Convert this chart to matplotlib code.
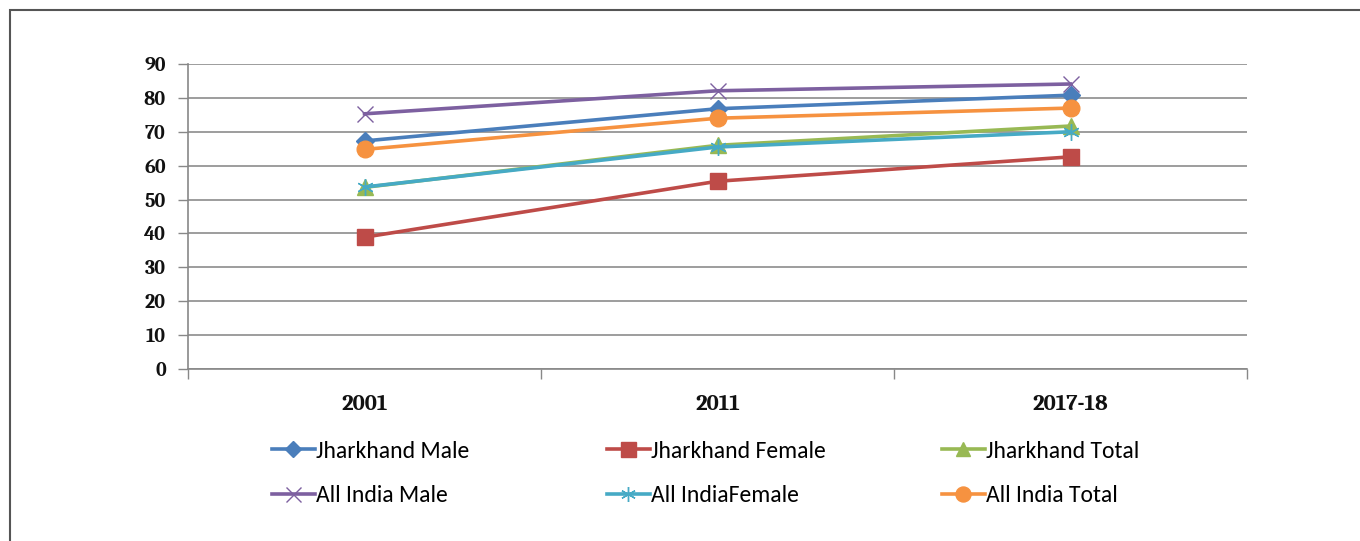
import matplotlib
matplotlib.use("Agg")
import matplotlib.pyplot as plt
from matplotlib.patches import Rectangle
from matplotlib.font_manager import FontProperties

years = ["2001", "2011", "2017-18"]
jharkhand_male = [67.3, 76.8, 80.8]
jharkhand_female = [38.9, 55.4, 62.6]
jharkhand_total = [53.6, 66.0, 71.7]
india_male = [75.3, 82.1, 84.1]
india_female = [53.7, 65.5, 70.0]
india_total = [64.8, 74.0, 77.0]
y_ticks = [0, 10, 20, 30, 40, 50, 60, 70, 80, 90]

series = [
    ("Jharkhand Male", jharkhand_male, "#4A7EBB", dict(marker="D", ms=9)),
    ("Jharkhand Female", jharkhand_female, "#BE4B48", dict(marker="s", ms=12)),
    ("Jharkhand Total", jharkhand_total, "#98B954", dict(marker="^", ms=11)),
    ("All India Male", india_male, "#7D60A0", dict(marker="x", ms=12, mew=1.0)),
    ("All India Female", india_female, "#46AAC5", dict(marker=(6, 2, 0), ms=12, mew=1.0)),
    ("All India Total", india_total, "#F69240", dict(marker="o", ms=12)),
]
legend_labels = ["Jharkhand Male", "Jharkhand Female", "Jharkhand Total",
                 "All India Male", "All IndiaFemale", "All India Total"]

fig = plt.figure(figsize=(13.6, 5.41), dpi=100)
fig.patch.set_facecolor("white")

# outer frame around the chart area
fig.patches.append(Rectangle((10 / 1360, -0.05), 1.2, (1 - 10 / 541) + 0.05,
                             transform=fig.transFigure, fill=False,
                             edgecolor="#555555", linewidth=1.5))

ax = fig.add_axes([188 / 1360, 1 - 369 / 541, (1247 - 188) / 1360, (369 - 64) / 541])
x = list(range(len(years)))

handles = []
for (name, vals, color, mk), lab in zip(series, legend_labels):
    h, = ax.plot(x, vals, color=color, lw=2.6, mec=color, mfc=color,
                 label=lab, zorder=3, **mk)
    handles.append(h)

ax.set_xlim(-0.5, len(years) - 0.5)
ax.set_ylim(0, 90)
ax.set_yticks(y_ticks)
ax.set_xticks([i - 0.5 for i in range(len(years) + 1)])
ax.set_xticklabels([])
ax.set_xticks(x, minor=True)
ax.set_xticklabels(years, minor=True)
ax.tick_params(axis="x", which="minor", length=0, pad=18)
ax.tick_params(axis="x", which="major", length=7, color="#888888", width=1)
ax.tick_params(axis="y", length=7, color="#888888", width=1, pad=9)

serif_bold = ["Caladea", "Liberation Serif", "DejaVu Serif"]
y_font = FontProperties(family=serif_bold, weight="bold", size=14.5)
x_font = FontProperties(family=serif_bold, weight="bold", size=16.5)
for lbl in ax.get_yticklabels():
    lbl.set_fontproperties(y_font)
    lbl.set_color("#111111")
for lbl in ax.get_xticklabels(minor=True):
    lbl.set_fontproperties(x_font)
    lbl.set_color("#111111")

ax.grid(axis="y", color="#8c8c8c", lw=1.2)
ax.set_axisbelow(True)
for side in ("top", "right"):
    ax.spines[side].set_visible(False)
for side in ("left", "bottom"):
    ax.spines[side].set_color("#888888")
    ax.spines[side].set_linewidth(1.2)

legend_font = FontProperties(
    family=["Carlito", "Archivo Narrow", "DejaVu Sans"], size=17)
col_x = [272 / 1360, 607 / 1360, 942 / 1360]
row_y = [1 - 451 / 541, 1 - 496 / 541]
for i, (h, lab) in enumerate(zip(handles, legend_labels)):
    r, c = divmod(i, 3)
    fig.legend([h], [lab], loc="center left", bbox_to_anchor=(col_x[c], row_y[r]),
               frameon=False, prop=legend_font, handlelength=1.8,
               handletextpad=0.05, borderpad=0, borderaxespad=0, markerscale=0.9)

fig.savefig("out.png", dpi=100, facecolor="white")
